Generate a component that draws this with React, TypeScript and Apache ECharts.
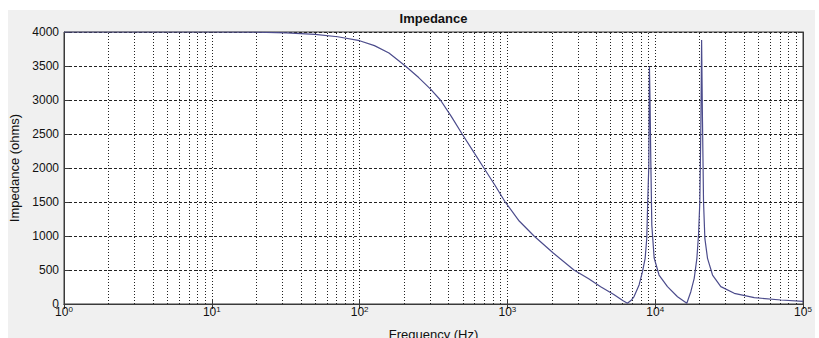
import React, { useEffect, useRef } from "react";
import * as echarts from "echarts";

// Frequency (Hz) and impedance (ohms)
const freqHz = [
  1, 10, 20, 32, 50, 71, 100, 126, 158, 204, 251, 302, 352, 417, 494, 589,
  693, 822, 966, 1202, 1514, 2042, 2818, 3548, 4276, 5248, 6026, 6486, 6918,
  7194, 7780, 8204, 8551, 8770, 8913, 9057, 9141, 9226, 9333, 9484, 9840,
  10617, 12106, 14158, 16368, 17418, 18365, 19143, 19634, 20045, 20370,
  20606, 20893, 21232, 21677, 22594, 24434, 27797, 34277, 46774, 70958,
  100000,
];
const impedanceOhms = [
  4000, 4000, 3997, 3988, 3966, 3930, 3872, 3800, 3690, 3500, 3330, 3160,
  3000, 2760, 2500, 2240, 2000, 1750, 1500, 1220, 1000, 750, 500, 370, 255,
  140, 50, 10, 60, 110, 280, 475, 672, 966, 1560, 2044, 3490, 3000, 2147,
  1160, 676, 426, 255, 107, 12, 181, 377, 672, 1015, 1504, 2632, 3882, 2681,
  1504, 966, 672, 426, 255, 157, 93, 59, 40,
];

const xDecadeExponents = [0, 1, 2, 3, 4, 5];
const minorMultipliers = [2, 3, 4, 5, 6, 7, 8, 9];
const yTicks = [0, 500, 1000, 1500, 2000, 2500, 3000, 3500, 4000];

const FONT = "Liberation Sans, Arial, Helvetica, sans-serif";
const AXIS_COLOR = "#3a3a3a";
const GRID_COLOR = "#222";

export default function App() {
  const ref = useRef<HTMLDivElement>(null);

  useEffect(() => {
    if (!ref.current) return;
    const chart = echarts.init(ref.current, undefined, { renderer: "svg" });

    const minorLines: { xAxis: number }[] = [];
    xDecadeExponents.slice(0, -1).forEach((e) => {
      minorMultipliers.forEach((m) => minorLines.push({ xAxis: m * Math.pow(10, e) }));
    });

    const xMin = Math.pow(10, xDecadeExponents[0]);
    const xMax = Math.pow(10, xDecadeExponents[xDecadeExponents.length - 1]);

    const commonX = {
      type: "log" as const,
      logBase: 10,
      min: xMin,
      max: xMax,
    };

    chart.setOption({
      animation: false,
      backgroundColor: "#ffffff",
      graphic: [
        {
          type: "rect",
          z: -100,
          silent: true,
          shape: { x: 8, y: 10, width: 807, height: 328 },
          style: { fill: "#f0f0f0" },
        },
        {
          type: "text",
          x: 433.5,
          y: 18,
          z: 10,
          style: {
            text: "Impedance",
            fontSize: 13,
            fontWeight: "bold",
            fontFamily: FONT,
            fill: "#111",
            align: "center",
            verticalAlign: "middle",
          },
        },
      ],
      grid: {
        left: 64,
        top: 32,
        right: 16,
        bottom: 34,
        containLabel: false,
        outerBoundsMode: "none",
        show: true,
        backgroundColor: "#ffffff",
        borderColor: AXIS_COLOR,
        borderWidth: 1,
      },
      xAxis: [
        {
          ...commonX,
          position: "bottom",
          name: "Frequency (Hz)",
          nameLocation: "middle",
          nameGap: 24,
          nameTextStyle: { fontSize: 13, fontFamily: FONT, color: "#111" },
          axisLine: { show: true, lineStyle: { color: AXIS_COLOR, width: 1 } },
          axisTick: { show: true, inside: true, length: 5, lineStyle: { color: AXIS_COLOR } },
          axisLabel: {
            margin: 1,
            formatter: (v: number) => `{b|10}{s|${Math.round(Math.log10(v))}}`,
            rich: {
              b: { fontSize: 12, fontFamily: FONT, color: "#111", lineHeight: 14 },
              s: { fontSize: 8, fontFamily: FONT, color: "#111", lineHeight: 8, verticalAlign: "top" },
            },
          },
          splitLine: {
            show: true,
            lineStyle: { color: GRID_COLOR, type: [1, 2], width: 1 },
          },
        },
        {
          ...commonX,
          position: "top",
          axisLine: { show: true, lineStyle: { color: AXIS_COLOR, width: 1 } },
          axisTick: { show: true, inside: true, length: 5, lineStyle: { color: AXIS_COLOR } },
          axisLabel: { show: false },
          splitLine: { show: false },
        },
      ],
      yAxis: [
        {
          type: "value",
          min: yTicks[0],
          max: yTicks[yTicks.length - 1],
          interval: yTicks[1] - yTicks[0],
          position: "left",
          name: "Impedance (ohms)",
          nameLocation: "middle",
          nameGap: 42,
          nameTextStyle: { fontSize: 13, fontFamily: FONT, color: "#111" },
          axisLine: { show: true, lineStyle: { color: AXIS_COLOR, width: 1 } },
          axisTick: { show: true, inside: true, length: 5, lineStyle: { color: AXIS_COLOR } },
          axisLabel: {
            margin: 5,
            fontSize: 12,
            fontFamily: FONT,
            color: "#111",
            formatter: (v: number) => String(v),
          },
          splitLine: {
            show: true,
            lineStyle: { color: GRID_COLOR, type: [3, 2], width: 1 },
          },
        },
        {
          type: "value",
          min: yTicks[0],
          max: yTicks[yTicks.length - 1],
          interval: yTicks[1] - yTicks[0],
          position: "right",
          axisLine: { show: true, lineStyle: { color: AXIS_COLOR, width: 1 } },
          axisTick: { show: true, inside: true, length: 5, lineStyle: { color: AXIS_COLOR } },
          axisLabel: { show: false },
          splitLine: { show: false },
        },
      ],
      series: [
        {
          type: "line",
          xAxisIndex: 0,
          yAxisIndex: 0,
          data: freqHz.map((f, i) => [f, impedanceOhms[i]]),
          showSymbol: false,
          smooth: false,
          lineStyle: { color: "#4c4c8c", width: 1.2 },
          z: 5,
          markLine: {
            silent: true,
            symbol: ["none", "none"],
            label: { show: false },
            emphasis: { disabled: true },
            lineStyle: { color: GRID_COLOR, type: [1, 2], width: 1 },
            data: minorLines,
            z: 1,
          },
        },
      ],
    });

    return () => chart.dispose();
  }, []);

  return (
    <div
      ref={ref}
      style={{ position: "absolute", left: 0, top: 0, width: 819, height: 338 }}
    />
  );
}
